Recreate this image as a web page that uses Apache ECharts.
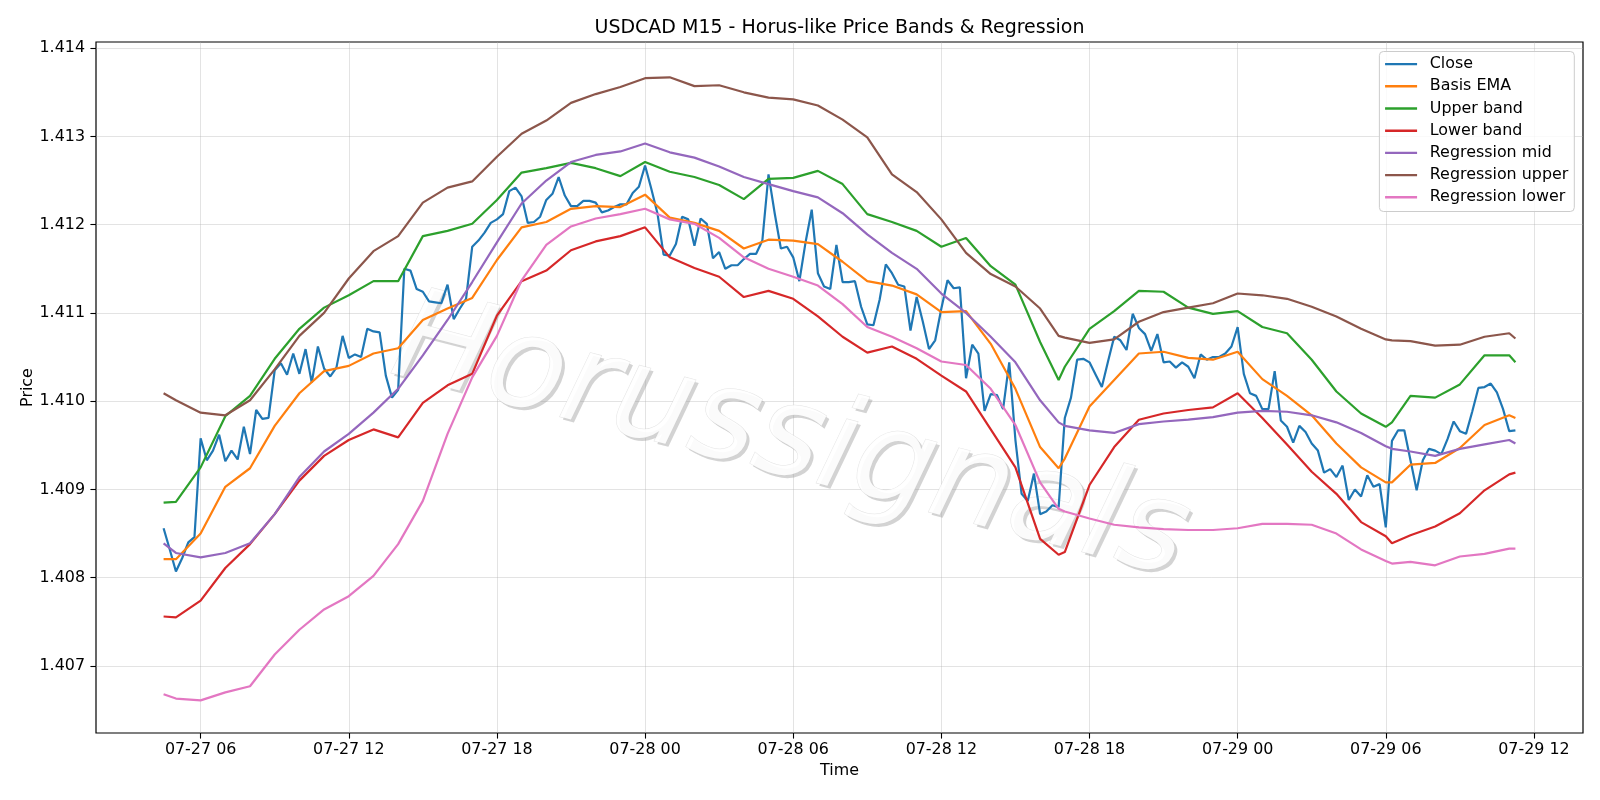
<!DOCTYPE html>
<html>
<head>
<meta charset="utf-8">
<script src="https://cdn.jsdelivr.net/npm/echarts@6/dist/echarts.min.js"></script>
<style>
html,body{margin:0;padding:0;background:#fff;}
#chart{width:1600px;height:800px;}
</style>
</head>
<body>
<div id="chart"></div>
<script>
// ---- Data ----
// Time measured in hours since 07-27 00:00 (M15 bars)
const closeStartHour = 4.5;
const closeStepHour = 0.25;
const closeValues = [
1.40856,1.40832,1.40807,1.40822,1.40840,1.40846,1.40958,1.40933,1.40944,1.40962,
1.40932,1.40944,1.40934,1.40971,1.40940,1.40990,1.40980,1.40981,1.41035,1.41043,
1.41030,1.41054,1.41031,1.41059,1.41021,1.41062,1.41037,1.41028,1.41038,1.41074,
1.41049,1.41053,1.41050,1.41082,1.41079,1.41078,1.41029,1.41004,1.41013,1.41150,
1.41148,1.41127,1.41124,1.41113,1.41112,1.41111,1.41132,1.41093,1.41105,1.41116,
1.41175,1.41182,1.41191,1.41202,1.41206,1.41212,1.41238,1.41242,1.41232,1.41202,
1.41203,1.41209,1.41228,1.41235,1.41254,1.41233,1.41221,1.41221,1.41227,1.41227,
1.41225,1.41214,1.41216,1.41220,1.41223,1.41223,1.41236,1.41243,1.41267,1.41241,
1.41213,1.41166,1.41165,1.41178,1.41209,1.41206,1.41176,1.41207,1.41201,1.41162,
1.41169,1.41150,1.41154,1.41154,1.41161,1.41167,1.41167,1.41182,1.41257,1.41213,
1.41173,1.41175,1.41163,1.41136,1.41180,1.41217,1.41145,1.41130,1.41127,1.41177,
1.41135,1.41135,1.41136,1.41107,1.41087,1.41086,1.41115,1.41155,1.41145,1.41132,
1.41130,1.41080,1.41118,1.41090,1.41059,1.41069,1.41105,1.41137,1.41128,1.41129,
1.41026,1.41064,1.41054,1.40989,1.41008,1.41007,1.40991,1.41044,1.40956,1.40895,
1.40887,1.40918,1.40872,1.40875,1.40882,1.40880,1.40981,1.41004,1.41047,1.41048,
1.41044,1.41030,1.41016,1.41045,1.41073,1.41069,1.41058,1.41099,1.41083,1.41076,
1.41057,1.41076,1.41044,1.41045,1.41038,1.41044,1.41039,1.41026,1.41053,1.41047,
1.41050,1.41050,1.41054,1.41062,1.41084,1.41031,1.41009,1.41006,1.40991,1.40991,
1.41034,1.40978,1.40971,1.40953,1.40972,1.40965,1.40952,1.40944,1.40919,1.40923,
1.40914,1.40927,1.40888,1.40900,1.40892,1.40916,1.40903,1.40906,1.40857,1.40955,
1.40967,1.40967,1.40933,1.40899,1.40933,1.40946,1.40944,1.40940,1.40957,1.40977,
1.40966,1.40963,1.40988,1.41015,1.41016,1.41020,1.41010,1.40991,1.40966,1.40967
];

// Sample times (hours since 07-27 00:00) for the smooth indicator lines
const bandHours = [4.5,5,6,7,8,9,10,11,12,13,14,15,16,17,18,19,20,21,22,23,24,25,26,27,28,29,30,31,32,33,34,35,36,37,38,39,40,40.75,41,42,43,44,45,46,47,48,49,50,51,52,53,54,54.25,55,56,57,58,59,59.25];

const basisEMA = [1.40821,1.40821,1.40850,1.40903,1.40924,1.40972,1.41009,1.41034,1.41040,1.41054,
1.41060,1.41092,1.41105,1.41117,1.41160,1.41197,1.41203,1.41218,1.41221,1.41220,
1.41234,1.41208,1.41202,1.41193,1.41173,1.41183,1.41182,1.41178,1.41158,1.41136,
1.41131,1.41121,1.41101,1.41102,1.41065,1.41014,1.40948,1.40924,1.40935,1.40994,
1.41024,1.41054,1.41056,1.41049,1.41047,1.41056,1.41025,1.41006,1.40984,1.40952,
1.40925,1.40908,1.40908,1.40928,1.40930,1.40947,1.40973,1.40984,1.40981];

const upperBand = [1.40885,1.40886,1.40925,1.40983,1.41006,1.41048,1.41082,1.41106,1.41120,1.41136,
1.41136,1.41187,1.41193,1.41201,1.41228,1.41259,1.41264,1.41270,1.41264,1.41255,
1.41271,1.41260,1.41254,1.41245,1.41229,1.41252,1.41253,1.41261,1.41246,1.41212,
1.41203,1.41193,1.41175,1.41185,1.41153,1.41132,1.41067,1.41024,1.41039,1.41082,
1.41102,1.41125,1.41124,1.41106,1.41099,1.41102,1.41084,1.41077,1.41047,1.41011,
1.40986,1.40971,1.40976,1.41006,1.41004,1.41019,1.41052,1.41052,1.41044];

const lowerBand = [1.40756,1.40755,1.40774,1.40811,1.40838,1.40872,1.40910,1.40938,1.40956,1.40968,
1.40959,1.40998,1.41018,1.41031,1.41097,1.41136,1.41148,1.41171,1.41181,1.41187,
1.41197,1.41163,1.41151,1.41141,1.41118,1.41125,1.41116,1.41096,1.41073,1.41055,
1.41062,1.41048,1.41029,1.41011,1.40968,1.40925,1.40844,1.40826,1.40829,1.40905,
1.40948,1.40979,1.40986,1.40990,1.40993,1.41009,1.40981,1.40951,1.40920,1.40895,
1.40863,1.40847,1.40839,1.40848,1.40858,1.40873,1.40899,1.40917,1.40919];

const regMid = [1.40839,1.40828,1.40823,1.40828,1.40839,1.40872,1.40914,1.40943,1.40963,1.40987,
1.41014,1.41052,1.41092,1.41135,1.41180,1.41224,1.41250,1.41271,1.41279,1.41283,
1.41292,1.41282,1.41276,1.41266,1.41254,1.41246,1.41238,1.41231,1.41213,1.41189,
1.41168,1.41150,1.41122,1.41100,1.41073,1.41044,1.41001,1.40976,1.40972,1.40967,
1.40964,1.40974,1.40977,1.40979,1.40982,1.40987,1.40989,1.40988,1.40984,1.40976,
1.40964,1.40949,1.40946,1.40943,1.40938,1.40946,1.40951,1.40956,1.40952];

const regUpper = [1.41009,1.41001,1.40987,1.40984,1.41001,1.41036,1.41074,1.41100,1.41139,1.41170,
1.41187,1.41225,1.41242,1.41249,1.41277,1.41303,1.41318,1.41338,1.41348,1.41356,
1.41366,1.41367,1.41357,1.41358,1.41350,1.41344,1.41342,1.41335,1.41319,1.41299,
1.41257,1.41237,1.41206,1.41168,1.41144,1.41130,1.41105,1.41074,1.41072,1.41066,
1.41070,1.41090,1.41101,1.41106,1.41111,1.41122,1.41120,1.41116,1.41107,1.41096,
1.41082,1.41070,1.41069,1.41068,1.41063,1.41064,1.41073,1.41077,1.41071];

const regLower = [1.40668,1.40663,1.40661,1.40670,1.40677,1.40713,1.40741,1.40764,1.40779,1.40802,
1.40838,1.40887,1.40963,1.41027,1.41074,1.41137,1.41177,1.41198,1.41207,1.41212,
1.41218,1.41206,1.41201,1.41185,1.41163,1.41150,1.41141,1.41131,1.41110,1.41084,
1.41073,1.41060,1.41045,1.41041,1.41014,1.40973,1.40908,1.40878,1.40875,1.40867,
1.40860,1.40857,1.40855,1.40854,1.40854,1.40856,1.40861,1.40861,1.40860,1.40850,
1.40832,1.40819,1.40816,1.40818,1.40814,1.40824,1.40827,1.40833,1.40833];

const xTickHours = [6,12,18,24,30,36,42,48,54,60];
const xTickLabels = ['07-27 06','07-27 12','07-27 18','07-28 00','07-28 06','07-28 12','07-28 18','07-29 00','07-29 06','07-29 12'];
const yTicks = [1.407,1.408,1.409,1.410,1.411,1.412,1.413,1.414];

const seriesNames = ['Close','Basis EMA','Upper band','Lower band','Regression mid','Regression upper','Regression lower'];
const seriesColors = ['#1f77b4','#ff7f0e','#2ca02c','#d62728','#9467bd','#8c564b','#e377c2'];

// ---- Build ----
const closeData = closeValues.map((v, i) => [closeStartHour + i * closeStepHour, v]);
const pair = arr => arr.map((v, i) => [bandHours[i], v]);
const lineData = [closeData, pair(basisEMA), pair(upperBand), pair(lowerBand), pair(regMid), pair(regUpper), pair(regLower)];

const FONT = '"DejaVu Sans", sans-serif';
const chart = echarts.init(document.getElementById('chart'), null, {renderer: 'canvas'});

const WM = {x: 790, y: 442, rot: -14.5 * Math.PI / 180, font: 'italic 127px ' + FONT};

const option = {
  animation: false,
  backgroundColor: '#ffffff',
  color: seriesColors,
  grid: {left: 96, right: 17, top: 42, bottom: 67, show: true, borderColor: '#000', borderWidth: 1.2, backgroundColor: 'transparent', containLabel: false},
  xAxis: {
    type: 'value', min: 1.7625, max: 61.9875,
    name: 'Time', nameLocation: 'middle', nameGap: 30,
    nameTextStyle: {fontFamily: FONT, fontSize: 15.9, color: '#000'},
    axisLine: {show: false},
    axisTick: {show: true, length: 5.6, customValues: xTickHours, lineStyle: {color: '#000', width: 1.1}},
    axisLabel: {show: true, margin: 9, customValues: xTickHours, fontFamily: FONT, fontSize: 15.9, color: '#000',
      formatter: v => { const i = xTickHours.findIndex(t => Math.abs(t - v) < 1e-6); return i >= 0 ? xTickLabels[i] : ''; }},
    splitLine: {show: true, lineStyle: {color: '#b0b0b0', opacity: 0.35, width: 1}}
  },
  yAxis: {
    type: 'value', min: 1.40624, max: 1.41407,
    name: 'Price', nameLocation: 'middle', nameGap: 60, nameMoveOverlap: false,
    nameTextStyle: {fontFamily: FONT, fontSize: 15.9, color: '#000'},
    axisLine: {show: false},
    axisTick: {show: true, length: 5.6, customValues: yTicks, lineStyle: {color: '#000', width: 1.1}},
    axisLabel: {show: true, margin: 11, customValues: yTicks, fontFamily: FONT, fontSize: 15.9, color: '#000',
      formatter: v => v.toFixed(3)},
    splitLine: {show: true, lineStyle: {color: '#b0b0b0', opacity: 0.35, width: 1}}
  },
  legend: {
    orient: 'vertical', right: 25.7, top: 51.5,
    data: seriesNames,
    icon: 'rect', itemWidth: 32, itemHeight: 2.4, itemGap: 4.2,
    textStyle: {fontFamily: FONT, fontSize: 15.9, color: '#000', lineHeight: 18, padding: [0, 0, 0, 7.7]},
    padding: [3.6, 6, 5.2, 5.7],
    backgroundColor: 'rgba(255,255,255,0.8)', borderColor: '#cccccc', borderWidth: 1, borderRadius: 4
  },
  graphic: [
    {type: 'text', x: 839.5, y: 28.5, z: 10,
      style: {text: 'USDCAD M15 - Horus-like Price Bands & Regression', font: '19px ' + FONT, fill: '#000',
        textAlign: 'center', textVerticalAlign: 'middle', align: 'center', verticalAlign: 'middle'}},
    // watermark shadow
    {type: 'text', x: WM.x + 3, y: WM.y + 3, rotation: WM.rot, z: 1, silent: true,
      style: {text: 'Horussignals', font: WM.font, fill: 'rgba(150,150,150,0.42)',
        textAlign: 'center', textVerticalAlign: 'middle', align: 'center', verticalAlign: 'middle'}},
    // watermark face
    {type: 'text', x: WM.x, y: WM.y, rotation: WM.rot, z: 1, silent: true,
      style: {text: 'Horussignals', font: WM.font, fill: 'rgba(255,255,255,0.9)',
        stroke: 'rgba(205,205,205,0.55)', lineWidth: 1,
        textAlign: 'center', textVerticalAlign: 'middle', align: 'center', verticalAlign: 'middle'}}
  ],
  series: seriesNames.map((name, i) => ({
    name: name, type: 'line', data: lineData[i], showSymbol: false, symbol: 'none',
    lineStyle: {width: 2.2, color: seriesColors[i]}, itemStyle: {color: seriesColors[i]},
    z: 2 + i * 0.01, emphasis: {disabled: true}
  }))
};
chart.setOption(option);
</script>
</body>
</html>
